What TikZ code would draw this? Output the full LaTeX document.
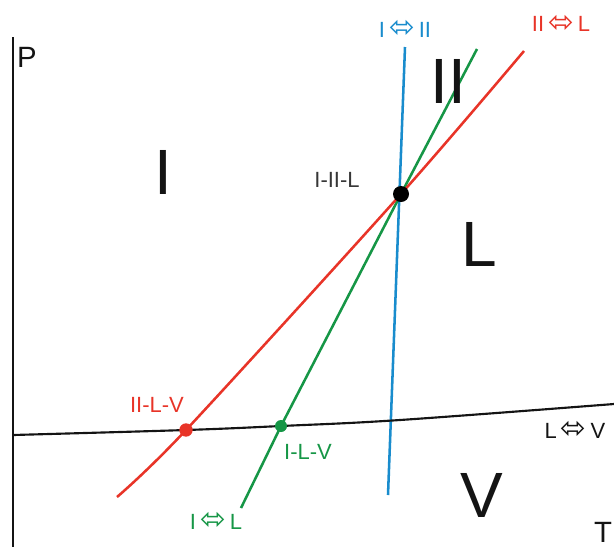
\documentclass[tikz,border=0pt]{standalone}
\usepackage{fontspec}
\setmainfont{Liberation Sans}
\newfontfamily\arrowfont{DejaVu Sans}
\definecolor{cblue}{RGB}{25,140,205}
\definecolor{cred}{RGB}{232,52,40}
\definecolor{cgreen}{RGB}{22,150,70}
\definecolor{cblack}{RGB}{20,20,20}
\newcommand{\dar}{\hspace{3pt}{\arrowfont\fontsize{23}{23}\selectfont\raisebox{-0.5pt}{\char"2B04}}\hspace{3pt}}
\tikzset{
  phase/.style={font=\fontsize{48}{48}\selectfont, text=cblack, inner sep=0pt, text depth=0pt},
  axlabel/.style={font=\fontsize{22}{22}\selectfont, text=cblack, inner sep=0pt, text depth=0pt},
  lbl/.style={font=\fontsize{16.5}{16.5}\selectfont, inner sep=0pt, text depth=0pt},
  curve/.style={line width=1.9pt},
  dotstyle/.style={circle, inner sep=0pt}
}
\begin{document}
\begin{tikzpicture}[x=0.75pt,y=-0.75pt]
\useasboundingbox (0,0) rectangle (614,547);
% axis
\coordinate (axtop) at (13,37);
\coordinate (axbot) at (13,547);
\draw[cblack, line width=1.5pt] (axtop) -- (axbot);
% key points
\coordinate (tp) at (401,194);
\coordinate (rv) at (186,430);
\coordinate (gv) at (281,426);
% blue I <-> II
\coordinate (b1) at (405,47);
\coordinate (b2) at (388,495);
\draw[cblue, curve] (b1) -- (b2);
% green I <-> L
\coordinate (g1) at (241,508);
\coordinate (g2) at (477,49);
\draw[cgreen, curve] (g1) -- (gv) -- (tp) -- (g2);
% red II <-> L
\coordinate (r1) at (117,497);
\coordinate (r2) at (524,51);
\draw[cred, curve] plot[smooth, tension=0.5] coordinates {(117,497) (186,430) (401,194) (524,51)};
% L <-> V
\draw[cblack, line width=1.6pt] plot[smooth, tension=0.6] coordinates {(13,435) (186,430) (281,426) (400,420) (614,404)};
% dots
\node[dotstyle, fill=black, minimum size=12pt] (tpd) at (tp) {};
\node[dotstyle, fill=cred, minimum size=10pt] (rvd) at (rv) {};
\node[dotstyle, fill=cgreen, minimum size=9pt] (gvd) at (gv) {};
% phase labels
\node[phase] (pI) at (163.5,172) {I};
\node[phase] (pII) at (448.5,81) {II};
\node[phase] (pL) at (479,244.5) {L};
\node[phase] (pV) at (482,495) {V};
% axis labels
\node[axlabel] (P) at (27,57.5) {P};
\node[axlabel] (T) at (603,532) {T};
% line labels
\node[lbl, text=cblue] (lb) at (405,29) {I\dar II};
\node[lbl, text=cred] (lr) at (561,23.5) {II\dar L};
\node[lbl, text=cgreen] (lg) at (216,521) {I\dar L};
\node[lbl, text=cblack] (lk) at (575,430) {L\dar V};
\node[lbl, text=cblack!85] (ltp) at (337,180) {I-II-L};
\node[lbl, text=cred] (lrv) at (157,405) {II-L-V};
\node[lbl, text=cgreen] (lgv) at (308,452) {I-L-V};
\end{tikzpicture}
\end{document}
